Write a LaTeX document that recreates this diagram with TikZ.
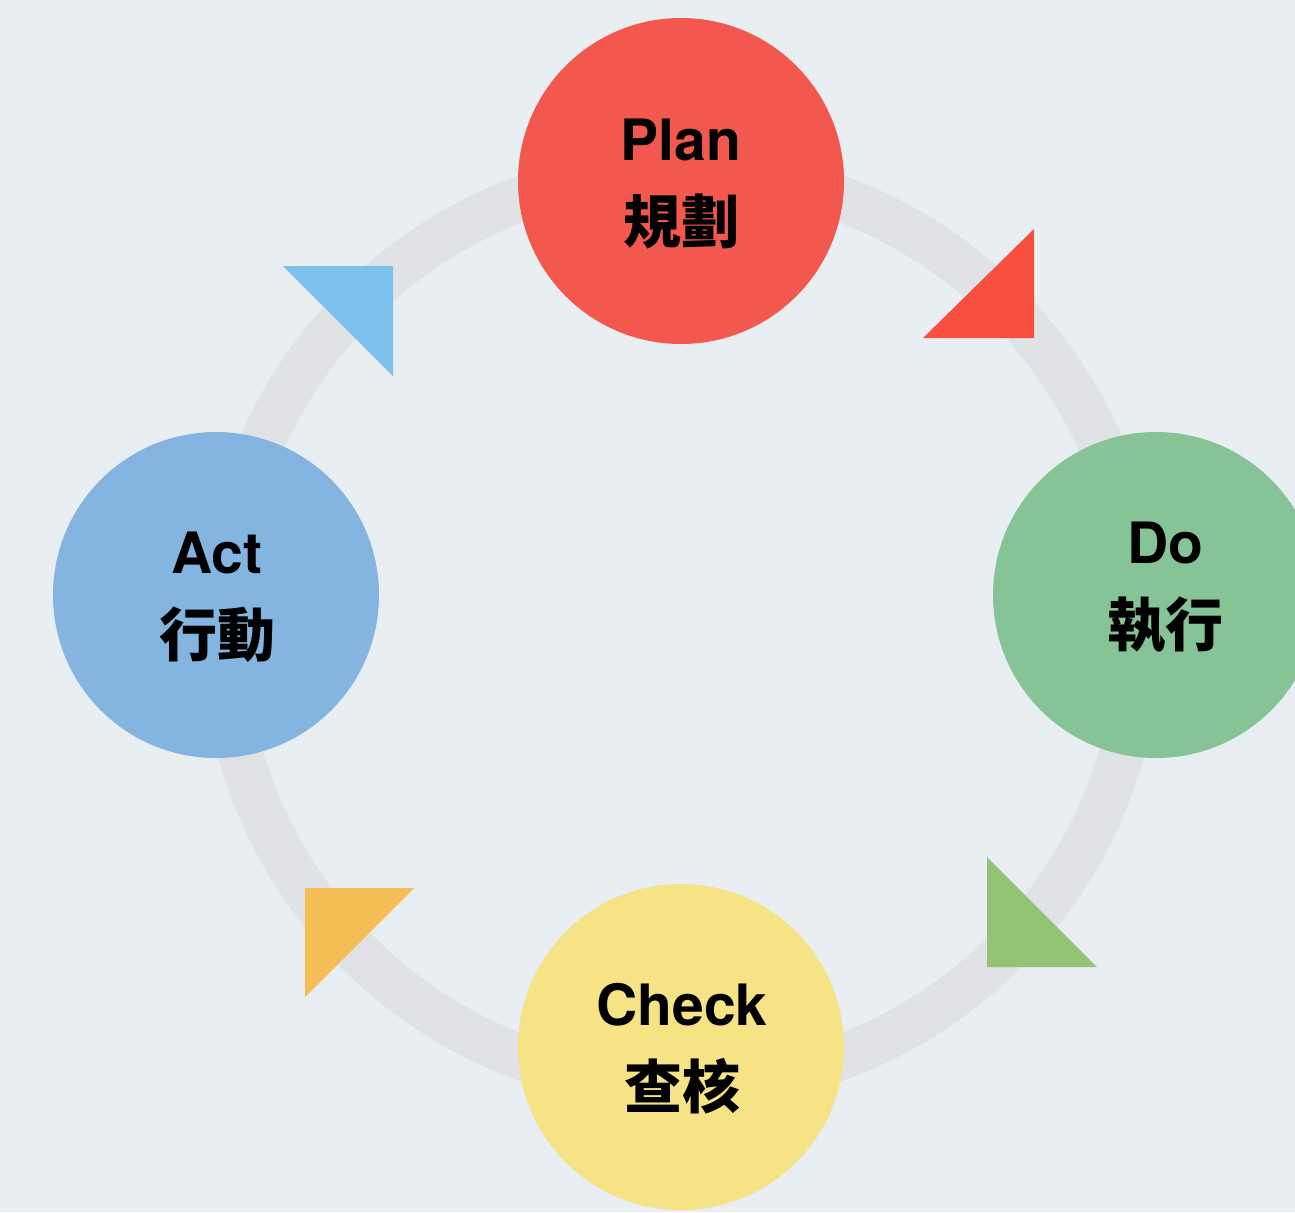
\documentclass[tikz,border=0pt]{standalone}
\usepackage{fontspec}
\setmainfont{TeX Gyre Heros}
\newfontfamily\cjkfont{Noto Sans CJK TC Medium}
\definecolor{bgcol}{HTML}{E9EEF3}
\definecolor{ringgray}{HTML}{E0E2E5}
\definecolor{planred}{HTML}{F3584F}
\definecolor{tipred}{HTML}{F64F3D}
\definecolor{dogreen}{HTML}{86C497}
\definecolor{tipgreen}{HTML}{94C376}
\definecolor{checkyellow}{HTML}{F5E385}
\definecolor{tiporange}{HTML}{F5BE55}
\definecolor{actblue}{HTML}{84B4E0}
\definecolor{tipblue}{HTML}{7CC1EB}

\begin{document}
\begin{tikzpicture}[x=0.5pt,y=-0.5pt,
  stage/.style={circle,inner sep=0pt,minimum size=163pt},
  caption/.style={align=center,font=\fontsize{28.5}{41.5}\selectfont\bfseries},
  ringline/.style={draw=ringgray,line width=22.5pt}]
  \useasboundingbox (0,0) rectangle (1295,1212);
  \clip (0,0) rectangle (1295,1212);
  \fill[bgcol] (0,0) rectangle (1295,1212);
  \draw[ringline] (681,628) circle[radius=458];
  \fill[tipred] (923,338) -- (1034,338) -- (1034,229) -- cycle;
  \fill[tipgreen] (987,857) -- (987,967) -- (1097,967) -- cycle;
  \fill[tiporange] (305,888) -- (414,888) -- (305,997) -- cycle;
  \fill[tipblue] (283,266) -- (393,266) -- (393,376) -- cycle;
  \node[stage,fill=planred] (plan) at (681,181) {};
  \node[stage,fill=dogreen] (do) at (1156,595) {};
  \node[stage,fill=checkyellow] (check) at (681,1047) {};
  \node[stage,fill=actblue] (act) at (216,595) {};
  \node[caption] (plantext) at (681,184) {Plan\\{\cjkfont\fontsize{29}{41.5}\selectfont 規劃}};
  \node[caption] (dotext) at (1165,588) {Do\\{\cjkfont\fontsize{29}{41.5}\selectfont 執行}};
  \node[caption] (checktext) at (682,1049) {Check\\{\cjkfont\fontsize{29}{41.5}\selectfont 查核}};
  \node[caption] (acttext) at (217,597) {Act\\{\cjkfont\fontsize{29}{41.5}\selectfont 行動}};
\end{tikzpicture}
\end{document}
